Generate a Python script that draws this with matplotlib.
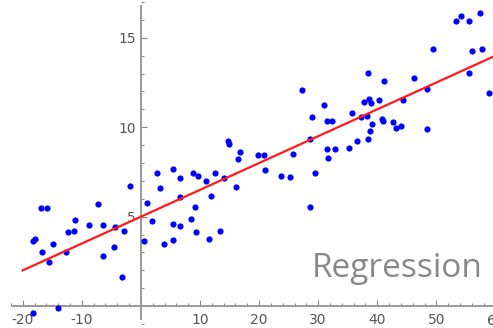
import matplotlib
matplotlib.use('Agg')
import matplotlib.pyplot as plt
from matplotlib.ticker import MultipleLocator, FuncFormatter

# sample points
x_pts = [-18.2, -14.0, -18.3, -18.0, -16.95, -15.84, -16.68, -14.92, -15.55, -12.72,
         -12.28, -11.37, -11.10, -8.83, -7.31, -6.46, -6.46, -4.55, -4.33, -3.25,
         -2.86, -1.79, 0.52, 0.98, 1.93, 2.67, 3.18, 3.91, 5.48, 6.62,
         8.76, 9.66, 11.02, 12.59, 14.11, 14.74, 14.91, 16.72, 16.38, 16.09,
         19.86, 20.83, 21.0, 23.65, 25.23, 25.79, 28.9, 28.61, 29.51, 28.61,
         31.44, 31.54, 31.66, 6.62, 9.10, 11.86, 8.53, 5.48, 6.62, 9.27,
         13.33, 5.48, 11.47, 38.38, 41.18, 46.16, 55.47, 58.85, 48.36, 31.03,
         37.80, 38.65, 38.88, 40.34, 44.40, 35.72, 32.39, 37.29, 38.26, 39.15,
         40.74, 41.02, 42.66, 43.16, 44.06, 38.76, 48.36, 36.51, 38.38, 35.26,
         32.84, 54.11, 53.37, 55.57, 57.38, 49.48, 56.02, 57.67, 27.26]
y_pts = [-0.36, -0.08, 3.66, 3.77, 5.50, 5.50, 3.01, 3.46, 2.45, 3.04,
         4.13, 4.20, 4.82, 4.52, 5.73, 4.54, 2.82, 3.32, 4.41, 1.63,
         4.18, 6.70, 3.64, 5.75, 4.78, 7.46, 6.59, 3.46, 7.66, 7.18,
         7.46, 7.29, 6.99, 7.46, 7.18, 9.21, 9.08, 8.60, 8.21, 6.68,
         8.45, 8.45, 7.59, 7.27, 7.22, 8.52, 10.59, 9.32, 7.46, 5.56,
         10.35, 8.77, 8.30, 6.08, 5.56, 6.14, 4.85, 4.58, 4.46, 4.15,
         4.18, 3.70, 3.74, 13.01, 12.60, 12.75, 13.01, 11.91, 12.13, 11.24,
         11.41, 11.56, 11.34, 11.54, 11.50, 10.81, 10.35, 10.55, 10.64, 10.16,
         10.47, 10.35, 10.29, 9.94, 10.07, 9.79, 9.90, 9.23, 9.36, 8.82,
         8.77, 16.21, 15.92, 15.92, 16.36, 14.37, 14.24, 14.37, 12.07]

# fitted line end points
line_x = [-20, 60]
line_y = [2.0, 14.0]

fig = plt.figure(figsize=(4.93, 3.28), dpi=100)
ax = fig.add_axes([0, 0, 1, 1])
ax.set_xlim(-23.84, 59.58)
ax.set_ylim(-1.22, 17.11)

ax.scatter(x_pts, y_pts, s=20, color='#0000ff', linewidths=0, zorder=3)
ax.plot(line_x, line_y, color='#ff1a1a', linewidth=1.6, zorder=4)

for side in ['top', 'right']:
    ax.spines[side].set_visible(False)
ax.spines['left'].set_position(('data', 0))
ax.spines['bottom'].set_position(('data', 0))
ax.spines['left'].set_bounds(-0.7, 16.8)
ax.spines['bottom'].set_bounds(-21.6, 62)
for side in ['left', 'bottom']:
    ax.spines[side].set_color('#999999')
    ax.spines[side].set_linewidth(1.4)

ax.xaxis.set_major_locator(MultipleLocator(10))
ax.xaxis.set_minor_locator(MultipleLocator(2))
ax.yaxis.set_major_locator(MultipleLocator(5))
ax.yaxis.set_minor_locator(MultipleLocator(1))
nozero = FuncFormatter(lambda v, p: '' if abs(v) < 1e-9 else '%d' % v)
ax.xaxis.set_major_formatter(nozero)
ax.yaxis.set_major_formatter(nozero)
ax.tick_params(which='both', direction='in', color='#888888', width=0.8,
               labelsize=10, labelcolor='#555555')
ax.tick_params(which='major', length=4.5)
ax.tick_params(which='minor', length=2.5)
ax.tick_params(axis='x', pad=5)
ax.tick_params(axis='y', pad=3.5)

# last x label sits just past the right edge, cut by the frame
ax.annotate('60', (60, 0), xytext=(0, -5.3), textcoords='offset points',
            ha='center', va='top', fontsize=10, color='#555555',
            annotation_clip=False)

fig.text(483 / 493, 1 - 277 / 328, 'Regression', family='Open Sans', fontsize=24,
         color='#888888', ha='right', va='baseline')

fig.savefig('out.png', dpi=100)
